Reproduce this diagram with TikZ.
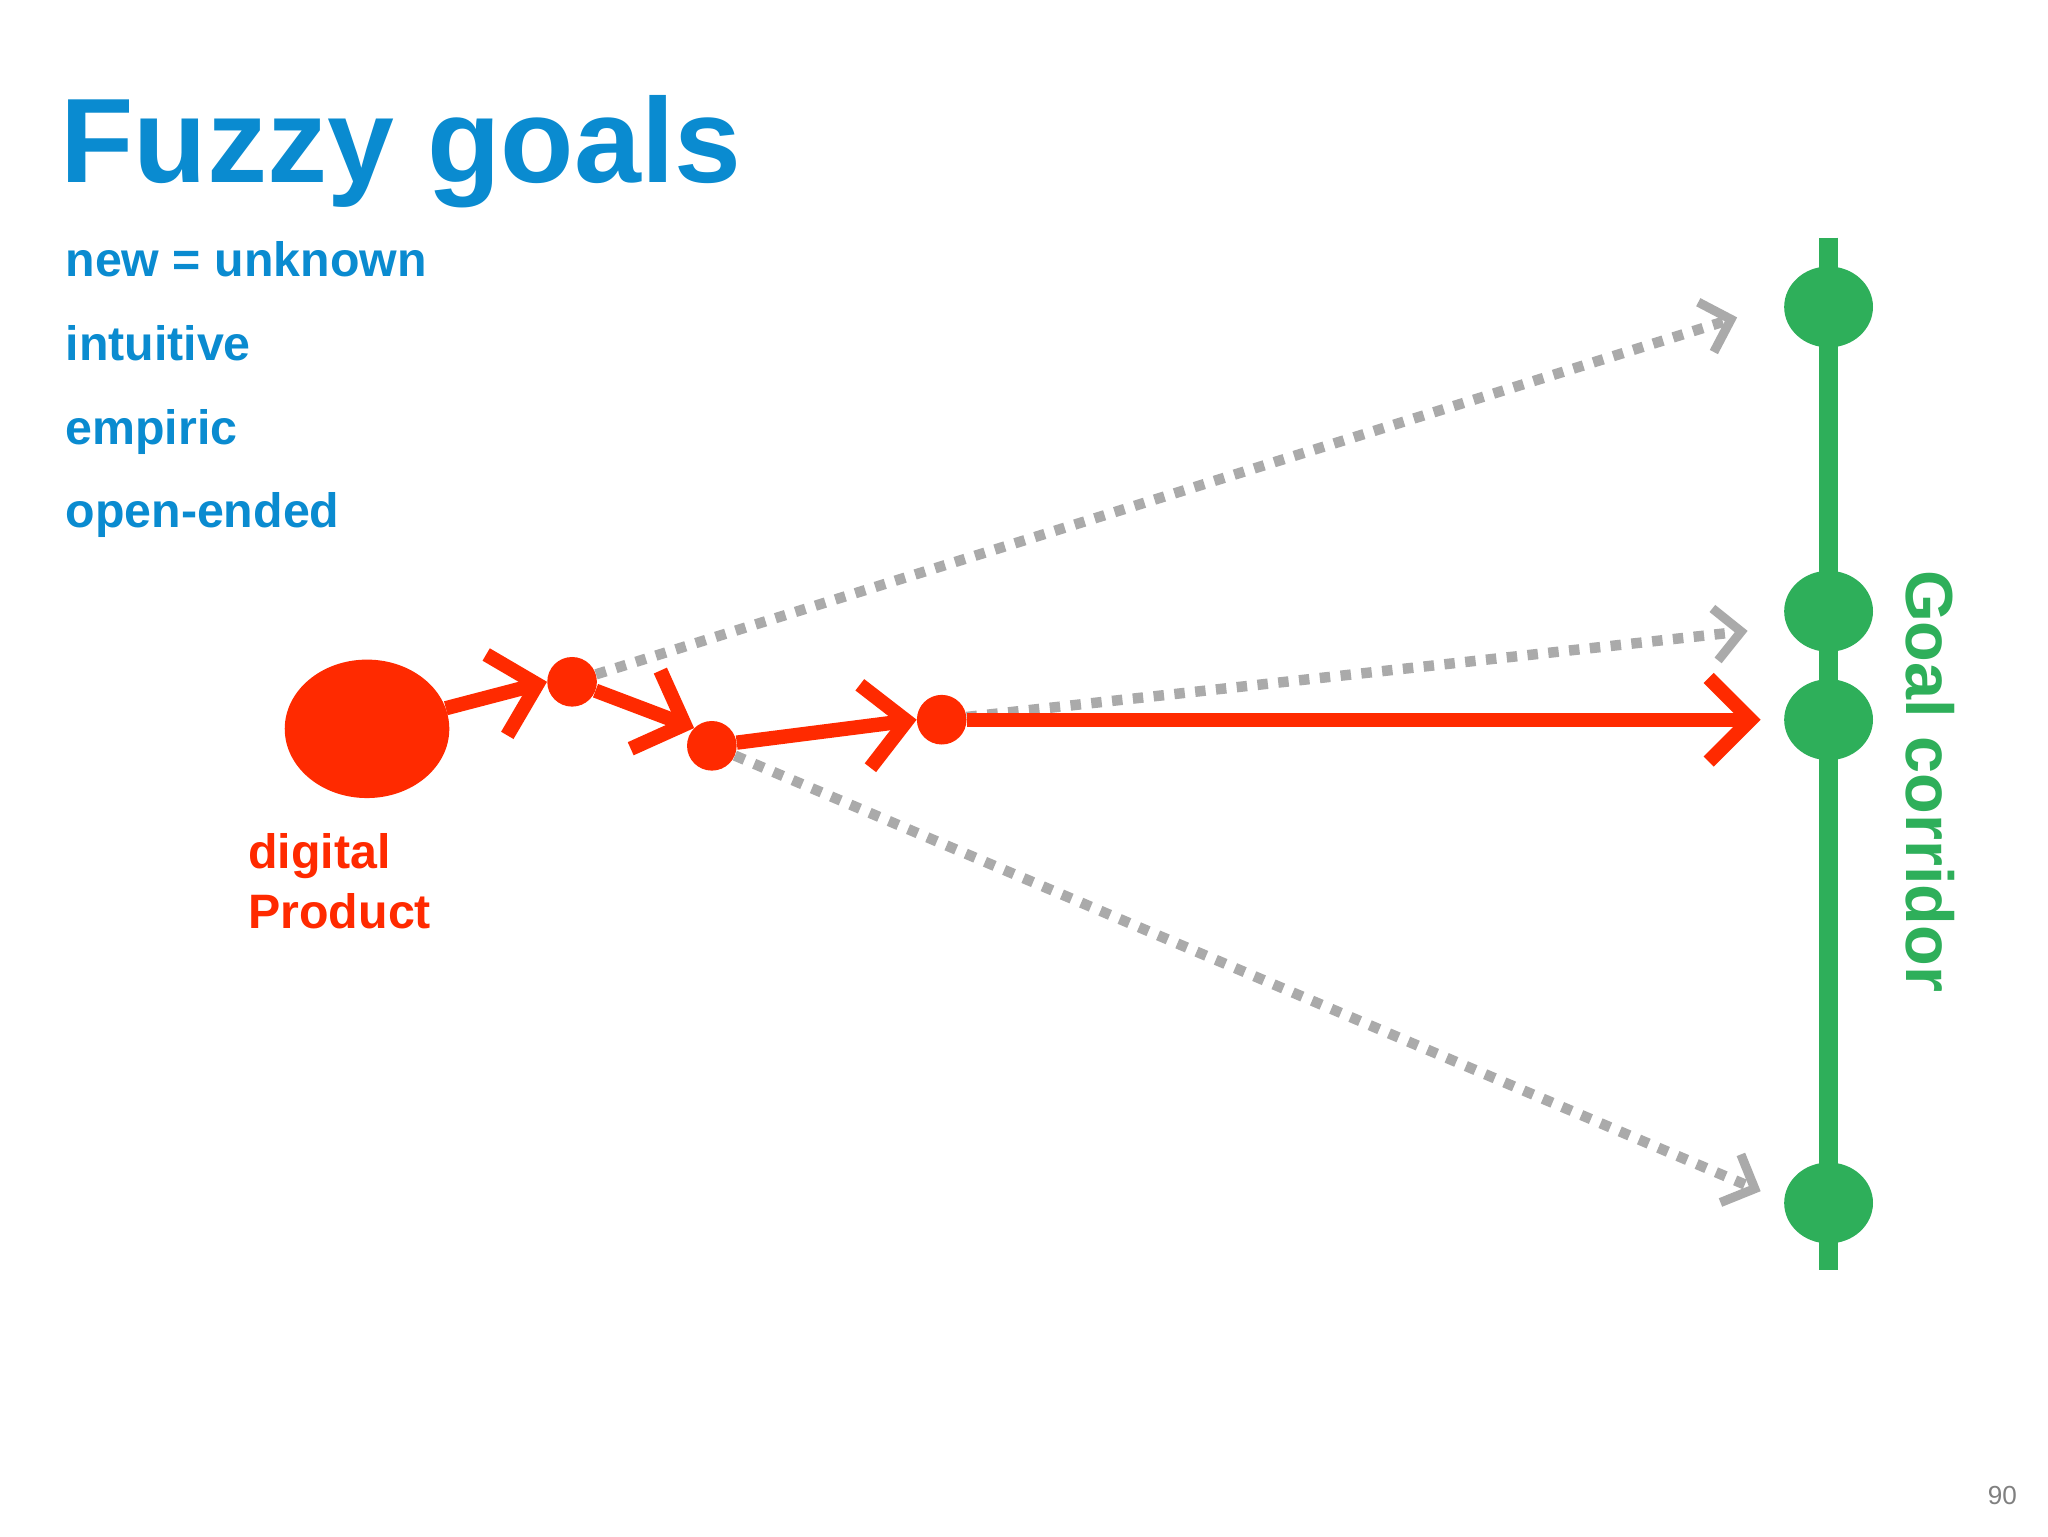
\documentclass[tikz,border=0pt]{standalone}
\usepackage{fontspec}
\setmainfont{Liberation Sans}
\usetikzlibrary{arrows.meta,shapes.geometric}
\definecolor{tblue}{HTML}{0A8BD0}
\definecolor{tred}{HTML}{FF2A00}
\definecolor{tgreen}{HTML}{2EAF5A}
\definecolor{tgray}{HTML}{AAAAAA}
\begin{document}
\begin{tikzpicture}[x=1pt,y=-1pt,
  redarrow/.style={draw=tred,line width=11,-{Straight Barb[length=32,width=64,line width=11]}},
  grayarrow/.style={draw=tgray,line width=8,dash pattern=on 8 off 8,-{Straight Barb[length=20,width=40,line width=7]}},
  gdot/.style={ellipse,fill=tgreen,minimum width=68,minimum height=62,inner sep=0},
  rdot/.style={circle,fill=tred,minimum size=38,inner sep=0},
  lbl/.style={anchor=base west,inner sep=0,font=\bfseries\fontsize{37}{40}\selectfont}]
\useasboundingbox[fill=white] (0,0) rectangle (1568,1176);
\node[lbl,text=tblue,font=\bfseries\fontsize{92}{100}\selectfont] (title) at (46,140) {Fuzzy goals};
\node[lbl,text=tblue] (b1) at (50,212) {new = unknown};
\node[lbl,text=tblue] (b2) at (50,276) {intuitive};
\node[lbl,text=tblue] (b3) at (50,340) {empiric};
\node[lbl,text=tblue] (b4) at (50,404) {open-ended};
\node[lbl,text=tred] (d1) at (190,665) {digital};
\node[lbl,text=tred] (d2) at (190,711) {Product};
% green corridor
\coordinate (gt) at (1400,182);
\coordinate (gb) at (1400,972);
\draw[tgreen,line width=14] (gt) -- (gb);
\node[gdot] (g1) at (1400,235) {};
\node[gdot] (g2) at (1400,468) {};
\node[gdot] (g3) at (1400,551) {};
\node[gdot] (g4) at (1400,921) {};
\node[text=tgreen,rotate=-90,font=\bfseries\fontsize{51}{55}\selectfont,inner sep=0] (gc) at (1478,598) {Goal corridor};
% red blobs
\node[ellipse,fill=tred,minimum width=126,minimum height=106,inner sep=0] (blob) at (281,558) {};
\node[rdot] (p1) at (438,522) {};
\node[rdot] (p2) at (545,571) {};
\node[rdot] (p3) at (721,551) {};
\coordinate (e1) at (1330,243);
\coordinate (e2) at (1338,483);
\coordinate (e3) at (1348,912);
\coordinate (e4) at (1348,551);
% gray dotted
\draw[grayarrow] (p1) -- (e1);
\draw[grayarrow] (p3) -- (e2);
\draw[grayarrow] (p2) -- (e3);
% red arrows
\draw[redarrow] (blob) -- (p1.west);
\draw[redarrow] (p1) -- (p2.north west);
\draw[redarrow] (p2) -- (p3.west);
\draw[redarrow] (p3) -- (e4);
\node[text=gray,font=\fontsize{20}{22}\selectfont] (pg) at (1533,1145) {90};
\end{tikzpicture}
\end{document}
